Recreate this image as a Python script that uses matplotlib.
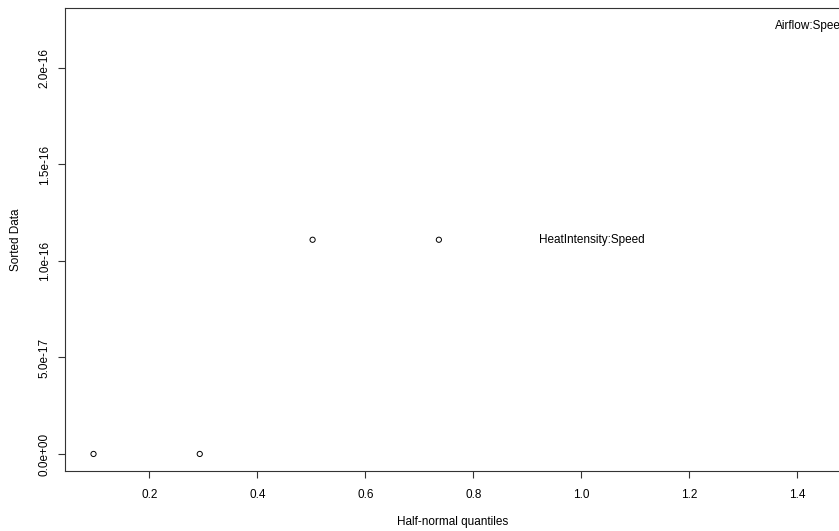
import matplotlib
matplotlib.use("Agg")
import matplotlib.pyplot as plt

# half-normal plot of effects (R halfnorm style)
quantiles = [0.0966, 0.2934, 0.5024, 0.7363, 1.0201, 1.4261]
sorted_data = [0.0, 0.0, 1.11e-16, 1.11e-16, 1.11e-16, 2.22e-16]
labels = ["", "", "", "", "HeatIntensity:Speed", "Airflow:Speed"]
n_label = 2

xticks = [0.2, 0.4, 0.6, 0.8, 1.0, 1.2, 1.4]
xticklabels = ["0.2", "0.4", "0.6", "0.8", "1.0", "1.2", "1.4"]
yticks = [0.0, 5e-17, 1e-16, 1.5e-16, 2e-16]
yticklabels = ["0.0e+00", "5.0e-17", "1.0e-16", "1.5e-16", "2.0e-16"]

plt.rcParams['font.family'] = ['Liberation Sans', 'DejaVu Sans']
fs = 8.5

fig = plt.figure(figsize=(8.39, 5.31), dpi=100)
ax = fig.add_axes([64.8 / 839, (531 - 471.1) / 531, (840 - 64.8) / 839, (471.1 - 8.4) / 531])

n = len(quantiles)
ax.scatter(quantiles[:n - n_label], sorted_data[:n - n_label], s=14, facecolors='none',
           edgecolors='black', linewidths=0.7, zorder=3)
for x, y, lab in zip(quantiles[n - n_label:], sorted_data[n - n_label:], labels[n - n_label:]):
    ax.text(x, y, lab, ha='center', va='center', fontsize=fs, color='black', clip_on=False)

# R style 4% padding
xr = max(quantiles) - min(quantiles)
yr = max(sorted_data) - min(sorted_data)
ax.set_xlim(min(quantiles) - 0.04 * xr, max(quantiles) + 0.04 * xr)
ax.set_ylim(min(sorted_data) - 0.04 * yr, max(sorted_data) + 0.04 * yr)

ax.set_xticks(xticks)
ax.set_xticklabels(xticklabels)
ax.set_yticks(yticks)
ax.set_yticklabels(yticklabels, rotation=90, va='center')
ax.tick_params(direction='out', length=5, width=0.8, labelsize=fs, color='#333333')
ax.tick_params(axis='x', pad=8)
ax.tick_params(axis='y', pad=5)
for sp in ax.spines.values():
    sp.set_linewidth(0.8)
    sp.set_color('#333333')

ax.set_xlabel("Half-normal quantiles", fontsize=fs, labelpad=11)
ax.set_ylabel("Sorted Data", fontsize=fs, labelpad=12)

fig.savefig("out.png", dpi=100)
